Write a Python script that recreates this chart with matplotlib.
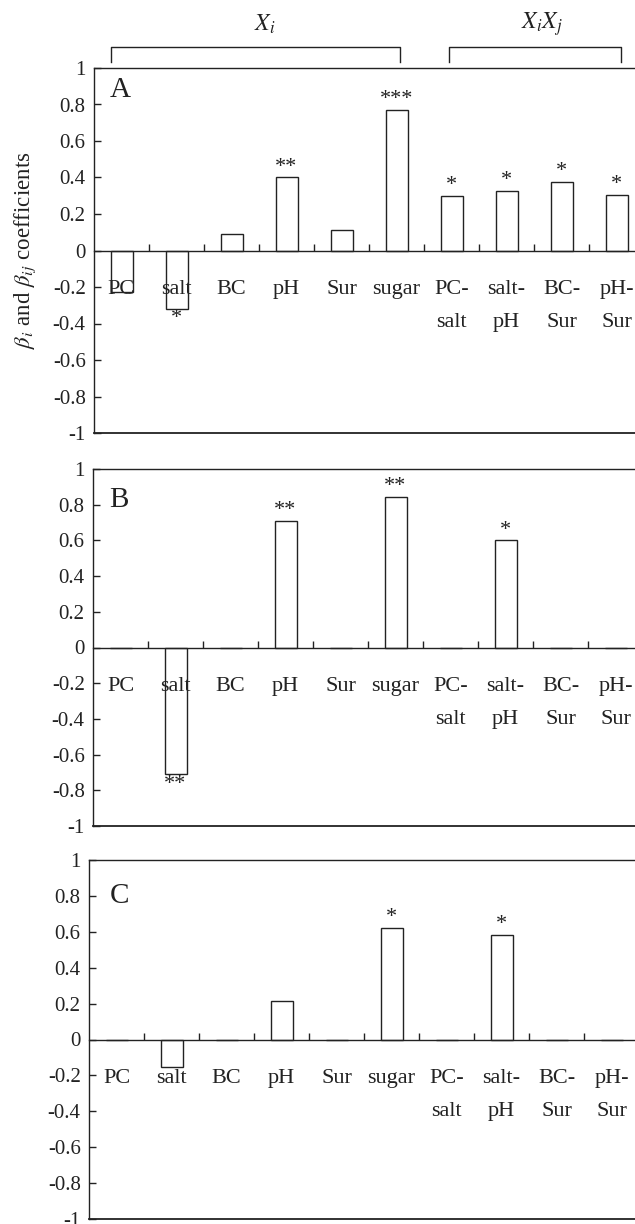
import matplotlib
matplotlib.use('Agg')
import matplotlib.pyplot as plt

plt.rcParams['font.family'] = ['Liberation Serif', 'DejaVu Serif']
plt.rcParams['mathtext.fontset'] = 'stix'
plt.rcParams['axes.unicode_minus'] = False

# data
categories = ['PC', 'salt', 'BC', 'pH', 'Sur', 'sugar',
              'PC-\nsalt', 'salt-\npH', 'BC-\nSur', 'pH-\nSur']
coef_A = [-0.228, -0.318, 0.093, 0.40, 0.115, 0.769, 0.298, 0.327, 0.378, 0.303]
coef_B = [0, -0.71, 0, 0.711, 0, 0.842, 0, 0.60, 0, 0]
coef_C = [0, -0.152, 0, 0.216, 0, 0.623, 0, 0.584, 0, 0]
stars_A = ['', '*', '', '**', '', '***', '*', '*', '*', '*']
stars_B = ['', '**', '', '**', '', '**', '', '*', '', '']
stars_C = ['', '', '', '', '', '*', '', '*', '', '']
panel_names = ['A', 'B', 'C']
yticks = [1, 0.8, 0.6, 0.4, 0.2, 0, -0.2, -0.4, -0.6, -0.8, -1]

INK = '#222222'

fig = plt.figure(figsize=(6.35, 12.24), dpi=100)
# axes boxes in pixels (left, top, bottom) of a 635x1224 figure
boxes = [(94, 68, 433), (93, 469, 826), (89, 860, 1219)]
letter_pos = [(0.047, 0.94), (0.047, 0.913), (0.055, 0.90)]
W, H = 635.0, 1224.0

axes = []
for k, (coef, stars) in enumerate(zip([coef_A, coef_B, coef_C], [stars_A, stars_B, stars_C])):
    left, top, bot = boxes[k]
    ax = fig.add_axes([left / W, 1 - bot / H, 550 / W, (bot - top) / H])
    axes.append(ax)
    x = list(range(len(categories)))
    ax.bar(x, coef, width=0.4, facecolor='white', edgecolor=INK, linewidth=1.0, zorder=1)
    for xi, v, s in zip(x, coef, stars):
        if not s:
            continue
        if v >= 0:
            ax.text(xi, v + 0.005, s, ha='center', va='bottom', fontsize=16, color=INK)
        else:
            ax.text(xi, v - 0.005, s, ha='center', va='top', fontsize=16, color=INK)
    ax.set_xlim(-0.5, 9.5)
    ax.set_ylim(-1, 1)
    ax.spines['right'].set_visible(False)
    ax.spines['bottom'].set_position(('data', 0))
    for sp in ['left', 'top', 'bottom']:
        ax.spines[sp].set_color(INK)
        ax.spines[sp].set_linewidth(1.0)
    ax.axhline(-1, color=INK, lw=1.3, clip_on=False, zorder=4)
    ax.set_yticks(yticks)
    ax.set_yticklabels(['%g' % t for t in yticks])
    ax.tick_params(axis='y', direction='in', length=5, width=1.0, color=INK,
                   labelsize=15, labelcolor=INK, pad=6)
    ax.set_xticks(x)
    ax.set_xticklabels(categories, fontsize=16, color=INK, linespacing=2.05)
    ax.set_xticks([i + 0.5 for i in x[:-1]], minor=True)
    ax.tick_params(axis='x', which='major', length=0, pad=21)
    ax.tick_params(axis='x', which='minor', direction='in', length=5, width=1.0, color=INK)
    lx, ly = letter_pos[k]
    ax.text(lx, ly, panel_names[k], transform=ax.transAxes, ha='center', va='center',
            fontsize=21, color=INK)

# brackets over panel A
axA = axes[0]
tr = axA.get_xaxis_transform()
for x0, x1 in [(-0.19, 5.06), (5.95, 9.08)]:
    axA.plot([x0, x0, x1, x1], [1.0164, 1.0575, 1.0575, 1.0164], color=INK, lw=1.0,
             transform=tr, clip_on=False)
axA.text(2.6, 1.12, r'$X_i$', transform=tr, ha='center', va='center', fontsize=17, color=INK)
axA.text(7.65, 1.12, r'$X_iX_j$', transform=tr, ha='center', va='center', fontsize=17, color=INK)

fig.text(0.04, 1 - 250 / H, r'$\beta_i$ and $\beta_{ij}$ coefficients', rotation=90,
         ha='center', va='center', fontsize=16.5, color=INK)

fig.savefig('out.png', dpi=100)
